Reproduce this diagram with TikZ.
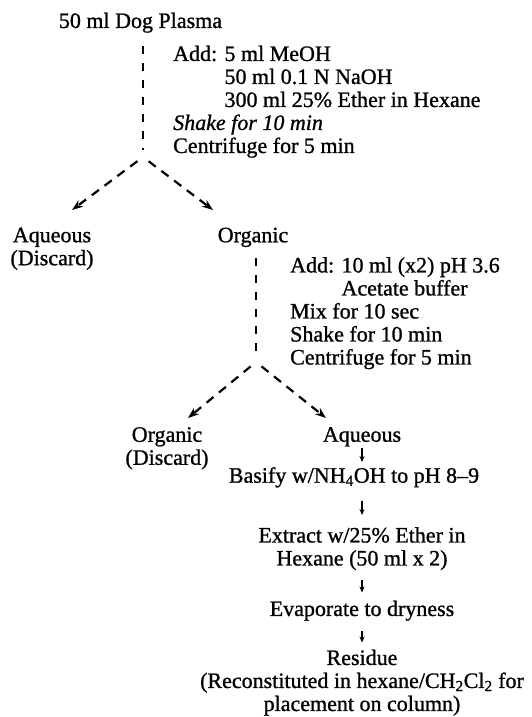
\documentclass[tikz,border=0pt]{standalone}
\usepackage{fontspec}
\setmainfont{Liberation Serif}[FakeBold=1]
\usetikzlibrary{arrows.meta}

\begin{document}
\begin{tikzpicture}[x=1pt, y=-1pt,
textnode/.style={font=\fontsize{22pt}{23pt}\selectfont, inner sep=0pt, align=center, anchor=north},
stepnode/.style={textnode, align=left, anchor=north west},
splitline/.style={line width=2.2pt, dash pattern=on 8pt off 9pt},
splitarrow/.style={line width=2.2pt, dash pattern=on 9pt off 7pt, -{Stealth[length=11pt, width=8pt]}, shorten <=7pt},
flowarrow/.style={line width=1.3pt, -{Stealth[length=6pt, width=5pt]}},
]
\useasboundingbox (0,0) rectangle (532,717);

\node[textnode] at(140.5,12.5) (plasma) {50 ml Dog Plasma};
\node[stepnode] at(173,45.5) (extract1) {Add: 5 ml MeOH\\
\phantom{Add: }50 ml 0.1 N NaOH\\
\phantom{Add: }300 ml 25\% Ether in Hexane\\
\textit{Shake for 10 min}\\
Centrifuge for 5 min};
\coordinate (split1) at (143,157);
\coordinate (tip1a) at (72,210);
\coordinate (tip1b) at (213,210);
\node[textnode] at(52,227.5) (aqueous1) {Aqueous\\(Discard)};
\node[textnode] at(253,227.5) (organic1) {Organic};

\node[stepnode] at(290,257) (extract2) {Add: 10 ml (x2) pH 3.6\\
\phantom{Add: }Acetate buffer\\
Mix for 10 sec\\
Shake for 10 min\\
Centrifuge for 5 min};
\coordinate (split2) at (256,362);
\coordinate (tip2a) at (188,418);
\coordinate (tip2b) at (326,418);
\node[textnode] at(167,427) (organic2) {Organic\\(Discard)};
\node[textnode] at(362,427) (aqueous2) {Aqueous};

\node[textnode] at(354,467) (basify) {Basify w/NH\textsubscript{4}OH to pH 8--9};
\node[textnode] at(362,527) (extract3) {Extract w/25\% Ether in\\Hexane (50 ml x 2)};
\node[textnode] at(362,600.5) (evaporate) {Evaporate to dryness};
\node[textnode] at(362,649.5) (residue) {Residue\\(Reconstituted in hexane/CH\textsubscript{2}Cl\textsubscript{2} for\\placement on column)};

\draw[splitline, shorten <=13pt, shorten >=7pt] (plasma.south -| split1) -- (split1);
\draw[splitarrow] (split1) -- (tip1a);
\draw[splitarrow] (split1) -- (tip1b);

\draw[splitline, shorten <=11pt, shorten >=7pt] (organic1.south -| split2) -- (split2);
\draw[splitarrow] (split2) -- (tip2a);
\draw[splitarrow] (split2) -- (tip2b);

\draw[flowarrow, shorten <=1pt, shorten >=5pt] (aqueous2) -- (aqueous2 |- basify.north);
\draw[flowarrow, shorten <=13pt, shorten >=12pt] (basify.south -| aqueous2) -- (extract3);
\draw[flowarrow, shorten <=10pt, shorten >=8pt] (extract3) -- (evaporate);
\draw[flowarrow, shorten <=10pt, shorten >=7pt] (evaporate) -- (residue);

\end{tikzpicture}
\end{document}
